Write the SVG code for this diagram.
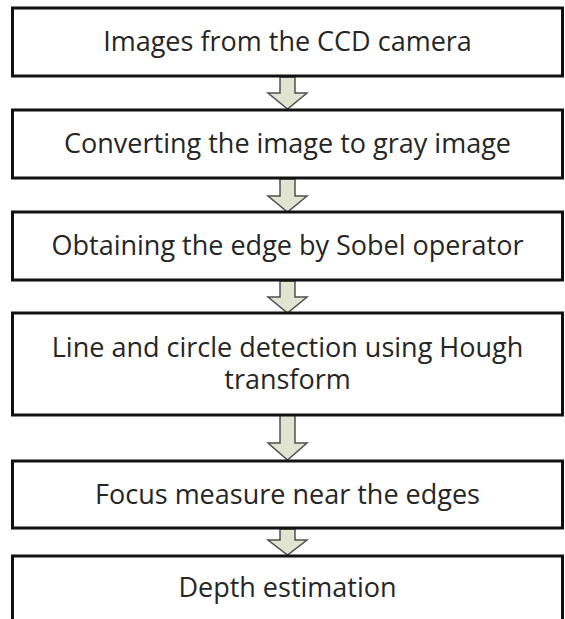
<svg xmlns="http://www.w3.org/2000/svg" width="565" height="619" viewBox="0 0 565 619">
<style>
.box{fill:#ffffff;stroke:#111111;stroke-width:3}
.lbl{font-family:"Open Sans","Noto Sans",sans-serif;font-size:27px;fill:#262626;text-anchor:middle}
.arr{fill:#e0e4d0;stroke:#505050;stroke-width:1.5;stroke-linejoin:miter}
</style>
<rect x="0" y="0" width="565" height="619" fill="#ffffff"/>
<g id="connectors">
<path class="arr" d="M280,77 L295,77 L295,93 L307,93 L287.5,109 L268,93 L280,93 Z"/>
<path class="arr" d="M280,179 L295,179 L295,196 L307,196 L287.5,212 L268,196 L280,196 Z"/>
<path class="arr" d="M280,281 L295,281 L295,297 L307,297 L287.5,313 L268,297 L280,297 Z"/>
<path class="arr" d="M280,415 L295,415 L295,443 L307,443 L287.5,460 L268,443 L280,443 Z"/>
<path class="arr" d="M280,529 L295,529 L295,540 L307,540 L287.5,555 L268,540 L280,540 Z"/>
</g>
<g id="n1"><rect class="box" x="12.5" y="8" width="550" height="68"/><text class="lbl" x="287.5" y="51">Images from the CCD camera</text></g>
<g id="n2"><rect class="box" x="12.5" y="110" width="550" height="68"/><text class="lbl" x="287.5" y="153">Converting the image to gray image</text></g>
<g id="n3"><rect class="box" x="12.5" y="212" width="550" height="68"/><text class="lbl" x="287.5" y="255">Obtaining the edge by Sobel operator</text></g>
<g id="n4"><rect class="box" x="12.5" y="313" width="550" height="102"/><text class="lbl" x="287.5" y="357">Line and circle detection using Hough</text><text class="lbl" x="287.5" y="389">transform</text></g>
<g id="n5"><rect class="box" x="12.5" y="461" width="550" height="67"/><text class="lbl" x="287.5" y="504">Focus measure near the edges</text></g>
<g id="n6"><rect class="box" x="12.5" y="556" width="550" height="68"/><text class="lbl" x="287.5" y="597">Depth estimation</text></g>
</svg>
